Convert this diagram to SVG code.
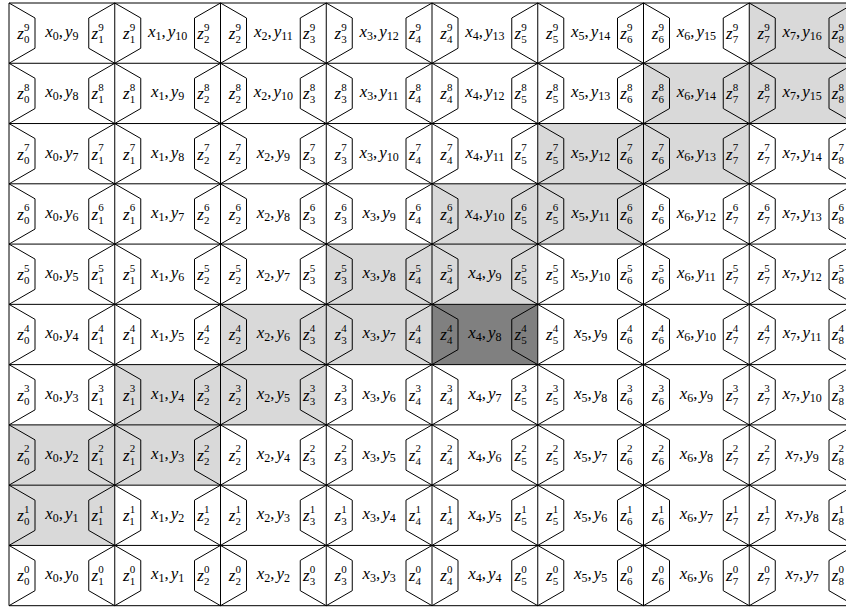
<svg xmlns="http://www.w3.org/2000/svg" xmlns:xlink="http://www.w3.org/1999/xlink" width="846" height="608" viewBox="0 0 846 608">
<style>
text{font-family:"Liberation Serif","Times New Roman",serif;font-size:17px;fill:#000}
.i{font-style:italic}
.s{font-size:12px}
.u{font-size:11px}
.m{text-anchor:middle}
.lt{fill:#d9d9d9}
.dk{fill:#808080}
.ln{fill:none;stroke:#000;stroke-width:1}
</style>
<defs>
<path id="hx" class="ln" d="M0,0L26,15L26,45.27L0,60.27L-26,45.27L-26,15Z"/>
<path id="hh" class="ln" d="M0,0L26,15L26,45.27L0,60.27"/>
<g id="hrow">
<use xlink:href="#hh" x="9"/>
<use xlink:href="#hx" x="114.75"/>
<use xlink:href="#hx" x="220.5"/>
<use xlink:href="#hx" x="326.25"/>
<use xlink:href="#hx" x="432"/>
<use xlink:href="#hx" x="537.75"/>
<use xlink:href="#hx" x="643.5"/>
<use xlink:href="#hx" x="749.25"/>
<use xlink:href="#hx" x="855"/>
</g>
</defs>
<rect width="846" height="608" fill="#fff"/>
<g id="cells">
<!-- s=9 -->
<g id="c0-9" transform="translate(9,3)"><text x="8.3" y="36"><tspan class="i">z</tspan><tspan class="u" dy="-8.4">9</tspan><tspan class="u" dx="-5.5" dy="12.4">0</tspan></text><text class="m" x="52.9" y="34"><tspan class="i">x</tspan><tspan class="s" dy="3">0</tspan><tspan dy="-3">,</tspan><tspan class="i" dx="2">y</tspan><tspan class="s" dy="3">9</tspan></text><text x="82.5" y="36"><tspan class="i">z</tspan><tspan class="u" dy="-8.4">9</tspan><tspan class="u" dx="-5.5" dy="12.4">1</tspan></text></g>
<g id="c1-9" transform="translate(114.75,3)"><text x="8.3" y="36"><tspan class="i">z</tspan><tspan class="u" dy="-8.4">9</tspan><tspan class="u" dx="-5.5" dy="12.4">1</tspan></text><text class="m" x="52.9" y="34"><tspan class="i">x</tspan><tspan class="s" dy="3">1</tspan><tspan dy="-3">,</tspan><tspan class="i" dx="2">y</tspan><tspan class="s" dy="3">10</tspan></text><text x="82.5" y="36"><tspan class="i">z</tspan><tspan class="u" dy="-8.4">9</tspan><tspan class="u" dx="-5.5" dy="12.4">2</tspan></text></g>
<g id="c2-9" transform="translate(220.5,3)"><text x="8.3" y="36"><tspan class="i">z</tspan><tspan class="u" dy="-8.4">9</tspan><tspan class="u" dx="-5.5" dy="12.4">2</tspan></text><text class="m" x="52.9" y="34"><tspan class="i">x</tspan><tspan class="s" dy="3">2</tspan><tspan dy="-3">,</tspan><tspan class="i" dx="2">y</tspan><tspan class="s" dy="3">11</tspan></text><text x="82.5" y="36"><tspan class="i">z</tspan><tspan class="u" dy="-8.4">9</tspan><tspan class="u" dx="-5.5" dy="12.4">3</tspan></text></g>
<g id="c3-9" transform="translate(326.25,3)"><text x="8.3" y="36"><tspan class="i">z</tspan><tspan class="u" dy="-8.4">9</tspan><tspan class="u" dx="-5.5" dy="12.4">3</tspan></text><text class="m" x="52.9" y="34"><tspan class="i">x</tspan><tspan class="s" dy="3">3</tspan><tspan dy="-3">,</tspan><tspan class="i" dx="2">y</tspan><tspan class="s" dy="3">12</tspan></text><text x="82.5" y="36"><tspan class="i">z</tspan><tspan class="u" dy="-8.4">9</tspan><tspan class="u" dx="-5.5" dy="12.4">4</tspan></text></g>
<g id="c4-9" transform="translate(432,3)"><text x="8.3" y="36"><tspan class="i">z</tspan><tspan class="u" dy="-8.4">9</tspan><tspan class="u" dx="-5.5" dy="12.4">4</tspan></text><text class="m" x="52.9" y="34"><tspan class="i">x</tspan><tspan class="s" dy="3">4</tspan><tspan dy="-3">,</tspan><tspan class="i" dx="2">y</tspan><tspan class="s" dy="3">13</tspan></text><text x="82.5" y="36"><tspan class="i">z</tspan><tspan class="u" dy="-8.4">9</tspan><tspan class="u" dx="-5.5" dy="12.4">5</tspan></text></g>
<g id="c5-9" transform="translate(537.75,3)"><text x="8.3" y="36"><tspan class="i">z</tspan><tspan class="u" dy="-8.4">9</tspan><tspan class="u" dx="-5.5" dy="12.4">5</tspan></text><text class="m" x="52.9" y="34"><tspan class="i">x</tspan><tspan class="s" dy="3">5</tspan><tspan dy="-3">,</tspan><tspan class="i" dx="2">y</tspan><tspan class="s" dy="3">14</tspan></text><text x="82.5" y="36"><tspan class="i">z</tspan><tspan class="u" dy="-8.4">9</tspan><tspan class="u" dx="-5.5" dy="12.4">6</tspan></text></g>
<g id="c6-9" transform="translate(643.5,3)"><text x="8.3" y="36"><tspan class="i">z</tspan><tspan class="u" dy="-8.4">9</tspan><tspan class="u" dx="-5.5" dy="12.4">6</tspan></text><text class="m" x="52.9" y="34"><tspan class="i">x</tspan><tspan class="s" dy="3">6</tspan><tspan dy="-3">,</tspan><tspan class="i" dx="2">y</tspan><tspan class="s" dy="3">15</tspan></text><text x="82.5" y="36"><tspan class="i">z</tspan><tspan class="u" dy="-8.4">9</tspan><tspan class="u" dx="-5.5" dy="12.4">7</tspan></text></g>
<g id="c7-9" transform="translate(749.25,3)"><rect class="lt" width="105.75" height="60.27"/><text x="8.3" y="36"><tspan class="i">z</tspan><tspan class="u" dy="-8.4">9</tspan><tspan class="u" dx="-5.5" dy="12.4">7</tspan></text><text class="m" x="52.9" y="34"><tspan class="i">x</tspan><tspan class="s" dy="3">7</tspan><tspan dy="-3">,</tspan><tspan class="i" dx="2">y</tspan><tspan class="s" dy="3">16</tspan></text><text x="82.5" y="36"><tspan class="i">z</tspan><tspan class="u" dy="-8.4">9</tspan><tspan class="u" dx="-5.5" dy="12.4">8</tspan></text></g>
<!-- s=8 -->
<g id="c0-8" transform="translate(9,63.27)"><text x="8.3" y="36"><tspan class="i">z</tspan><tspan class="u" dy="-8.4">8</tspan><tspan class="u" dx="-5.5" dy="12.4">0</tspan></text><text class="m" x="52.9" y="34"><tspan class="i">x</tspan><tspan class="s" dy="3">0</tspan><tspan dy="-3">,</tspan><tspan class="i" dx="2">y</tspan><tspan class="s" dy="3">8</tspan></text><text x="82.5" y="36"><tspan class="i">z</tspan><tspan class="u" dy="-8.4">8</tspan><tspan class="u" dx="-5.5" dy="12.4">1</tspan></text></g>
<g id="c1-8" transform="translate(114.75,63.27)"><text x="8.3" y="36"><tspan class="i">z</tspan><tspan class="u" dy="-8.4">8</tspan><tspan class="u" dx="-5.5" dy="12.4">1</tspan></text><text class="m" x="52.9" y="34"><tspan class="i">x</tspan><tspan class="s" dy="3">1</tspan><tspan dy="-3">,</tspan><tspan class="i" dx="2">y</tspan><tspan class="s" dy="3">9</tspan></text><text x="82.5" y="36"><tspan class="i">z</tspan><tspan class="u" dy="-8.4">8</tspan><tspan class="u" dx="-5.5" dy="12.4">2</tspan></text></g>
<g id="c2-8" transform="translate(220.5,63.27)"><text x="8.3" y="36"><tspan class="i">z</tspan><tspan class="u" dy="-8.4">8</tspan><tspan class="u" dx="-5.5" dy="12.4">2</tspan></text><text class="m" x="52.9" y="34"><tspan class="i">x</tspan><tspan class="s" dy="3">2</tspan><tspan dy="-3">,</tspan><tspan class="i" dx="2">y</tspan><tspan class="s" dy="3">10</tspan></text><text x="82.5" y="36"><tspan class="i">z</tspan><tspan class="u" dy="-8.4">8</tspan><tspan class="u" dx="-5.5" dy="12.4">3</tspan></text></g>
<g id="c3-8" transform="translate(326.25,63.27)"><text x="8.3" y="36"><tspan class="i">z</tspan><tspan class="u" dy="-8.4">8</tspan><tspan class="u" dx="-5.5" dy="12.4">3</tspan></text><text class="m" x="52.9" y="34"><tspan class="i">x</tspan><tspan class="s" dy="3">3</tspan><tspan dy="-3">,</tspan><tspan class="i" dx="2">y</tspan><tspan class="s" dy="3">11</tspan></text><text x="82.5" y="36"><tspan class="i">z</tspan><tspan class="u" dy="-8.4">8</tspan><tspan class="u" dx="-5.5" dy="12.4">4</tspan></text></g>
<g id="c4-8" transform="translate(432,63.27)"><text x="8.3" y="36"><tspan class="i">z</tspan><tspan class="u" dy="-8.4">8</tspan><tspan class="u" dx="-5.5" dy="12.4">4</tspan></text><text class="m" x="52.9" y="34"><tspan class="i">x</tspan><tspan class="s" dy="3">4</tspan><tspan dy="-3">,</tspan><tspan class="i" dx="2">y</tspan><tspan class="s" dy="3">12</tspan></text><text x="82.5" y="36"><tspan class="i">z</tspan><tspan class="u" dy="-8.4">8</tspan><tspan class="u" dx="-5.5" dy="12.4">5</tspan></text></g>
<g id="c5-8" transform="translate(537.75,63.27)"><text x="8.3" y="36"><tspan class="i">z</tspan><tspan class="u" dy="-8.4">8</tspan><tspan class="u" dx="-5.5" dy="12.4">5</tspan></text><text class="m" x="52.9" y="34"><tspan class="i">x</tspan><tspan class="s" dy="3">5</tspan><tspan dy="-3">,</tspan><tspan class="i" dx="2">y</tspan><tspan class="s" dy="3">13</tspan></text><text x="82.5" y="36"><tspan class="i">z</tspan><tspan class="u" dy="-8.4">8</tspan><tspan class="u" dx="-5.5" dy="12.4">6</tspan></text></g>
<g id="c6-8" transform="translate(643.5,63.27)"><rect class="lt" width="105.75" height="60.27"/><text x="8.3" y="36"><tspan class="i">z</tspan><tspan class="u" dy="-8.4">8</tspan><tspan class="u" dx="-5.5" dy="12.4">6</tspan></text><text class="m" x="52.9" y="34"><tspan class="i">x</tspan><tspan class="s" dy="3">6</tspan><tspan dy="-3">,</tspan><tspan class="i" dx="2">y</tspan><tspan class="s" dy="3">14</tspan></text><text x="82.5" y="36"><tspan class="i">z</tspan><tspan class="u" dy="-8.4">8</tspan><tspan class="u" dx="-5.5" dy="12.4">7</tspan></text></g>
<g id="c7-8" transform="translate(749.25,63.27)"><rect class="lt" width="105.75" height="60.27"/><text x="8.3" y="36"><tspan class="i">z</tspan><tspan class="u" dy="-8.4">8</tspan><tspan class="u" dx="-5.5" dy="12.4">7</tspan></text><text class="m" x="52.9" y="34"><tspan class="i">x</tspan><tspan class="s" dy="3">7</tspan><tspan dy="-3">,</tspan><tspan class="i" dx="2">y</tspan><tspan class="s" dy="3">15</tspan></text><text x="82.5" y="36"><tspan class="i">z</tspan><tspan class="u" dy="-8.4">8</tspan><tspan class="u" dx="-5.5" dy="12.4">8</tspan></text></g>
<!-- s=7 -->
<g id="c0-7" transform="translate(9,123.54)"><text x="8.3" y="36"><tspan class="i">z</tspan><tspan class="u" dy="-8.4">7</tspan><tspan class="u" dx="-5.5" dy="12.4">0</tspan></text><text class="m" x="52.9" y="34"><tspan class="i">x</tspan><tspan class="s" dy="3">0</tspan><tspan dy="-3">,</tspan><tspan class="i" dx="2">y</tspan><tspan class="s" dy="3">7</tspan></text><text x="82.5" y="36"><tspan class="i">z</tspan><tspan class="u" dy="-8.4">7</tspan><tspan class="u" dx="-5.5" dy="12.4">1</tspan></text></g>
<g id="c1-7" transform="translate(114.75,123.54)"><text x="8.3" y="36"><tspan class="i">z</tspan><tspan class="u" dy="-8.4">7</tspan><tspan class="u" dx="-5.5" dy="12.4">1</tspan></text><text class="m" x="52.9" y="34"><tspan class="i">x</tspan><tspan class="s" dy="3">1</tspan><tspan dy="-3">,</tspan><tspan class="i" dx="2">y</tspan><tspan class="s" dy="3">8</tspan></text><text x="82.5" y="36"><tspan class="i">z</tspan><tspan class="u" dy="-8.4">7</tspan><tspan class="u" dx="-5.5" dy="12.4">2</tspan></text></g>
<g id="c2-7" transform="translate(220.5,123.54)"><text x="8.3" y="36"><tspan class="i">z</tspan><tspan class="u" dy="-8.4">7</tspan><tspan class="u" dx="-5.5" dy="12.4">2</tspan></text><text class="m" x="52.9" y="34"><tspan class="i">x</tspan><tspan class="s" dy="3">2</tspan><tspan dy="-3">,</tspan><tspan class="i" dx="2">y</tspan><tspan class="s" dy="3">9</tspan></text><text x="82.5" y="36"><tspan class="i">z</tspan><tspan class="u" dy="-8.4">7</tspan><tspan class="u" dx="-5.5" dy="12.4">3</tspan></text></g>
<g id="c3-7" transform="translate(326.25,123.54)"><text x="8.3" y="36"><tspan class="i">z</tspan><tspan class="u" dy="-8.4">7</tspan><tspan class="u" dx="-5.5" dy="12.4">3</tspan></text><text class="m" x="52.9" y="34"><tspan class="i">x</tspan><tspan class="s" dy="3">3</tspan><tspan dy="-3">,</tspan><tspan class="i" dx="2">y</tspan><tspan class="s" dy="3">10</tspan></text><text x="82.5" y="36"><tspan class="i">z</tspan><tspan class="u" dy="-8.4">7</tspan><tspan class="u" dx="-5.5" dy="12.4">4</tspan></text></g>
<g id="c4-7" transform="translate(432,123.54)"><text x="8.3" y="36"><tspan class="i">z</tspan><tspan class="u" dy="-8.4">7</tspan><tspan class="u" dx="-5.5" dy="12.4">4</tspan></text><text class="m" x="52.9" y="34"><tspan class="i">x</tspan><tspan class="s" dy="3">4</tspan><tspan dy="-3">,</tspan><tspan class="i" dx="2">y</tspan><tspan class="s" dy="3">11</tspan></text><text x="82.5" y="36"><tspan class="i">z</tspan><tspan class="u" dy="-8.4">7</tspan><tspan class="u" dx="-5.5" dy="12.4">5</tspan></text></g>
<g id="c5-7" transform="translate(537.75,123.54)"><rect class="lt" width="105.75" height="60.27"/><text x="8.3" y="36"><tspan class="i">z</tspan><tspan class="u" dy="-8.4">7</tspan><tspan class="u" dx="-5.5" dy="12.4">5</tspan></text><text class="m" x="52.9" y="34"><tspan class="i">x</tspan><tspan class="s" dy="3">5</tspan><tspan dy="-3">,</tspan><tspan class="i" dx="2">y</tspan><tspan class="s" dy="3">12</tspan></text><text x="82.5" y="36"><tspan class="i">z</tspan><tspan class="u" dy="-8.4">7</tspan><tspan class="u" dx="-5.5" dy="12.4">6</tspan></text></g>
<g id="c6-7" transform="translate(643.5,123.54)"><rect class="lt" width="105.75" height="60.27"/><text x="8.3" y="36"><tspan class="i">z</tspan><tspan class="u" dy="-8.4">7</tspan><tspan class="u" dx="-5.5" dy="12.4">6</tspan></text><text class="m" x="52.9" y="34"><tspan class="i">x</tspan><tspan class="s" dy="3">6</tspan><tspan dy="-3">,</tspan><tspan class="i" dx="2">y</tspan><tspan class="s" dy="3">13</tspan></text><text x="82.5" y="36"><tspan class="i">z</tspan><tspan class="u" dy="-8.4">7</tspan><tspan class="u" dx="-5.5" dy="12.4">7</tspan></text></g>
<g id="c7-7" transform="translate(749.25,123.54)"><text x="8.3" y="36"><tspan class="i">z</tspan><tspan class="u" dy="-8.4">7</tspan><tspan class="u" dx="-5.5" dy="12.4">7</tspan></text><text class="m" x="52.9" y="34"><tspan class="i">x</tspan><tspan class="s" dy="3">7</tspan><tspan dy="-3">,</tspan><tspan class="i" dx="2">y</tspan><tspan class="s" dy="3">14</tspan></text><text x="82.5" y="36"><tspan class="i">z</tspan><tspan class="u" dy="-8.4">7</tspan><tspan class="u" dx="-5.5" dy="12.4">8</tspan></text></g>
<!-- s=6 -->
<g id="c0-6" transform="translate(9,183.81)"><text x="8.3" y="36"><tspan class="i">z</tspan><tspan class="u" dy="-8.4">6</tspan><tspan class="u" dx="-5.5" dy="12.4">0</tspan></text><text class="m" x="52.9" y="34"><tspan class="i">x</tspan><tspan class="s" dy="3">0</tspan><tspan dy="-3">,</tspan><tspan class="i" dx="2">y</tspan><tspan class="s" dy="3">6</tspan></text><text x="82.5" y="36"><tspan class="i">z</tspan><tspan class="u" dy="-8.4">6</tspan><tspan class="u" dx="-5.5" dy="12.4">1</tspan></text></g>
<g id="c1-6" transform="translate(114.75,183.81)"><text x="8.3" y="36"><tspan class="i">z</tspan><tspan class="u" dy="-8.4">6</tspan><tspan class="u" dx="-5.5" dy="12.4">1</tspan></text><text class="m" x="52.9" y="34"><tspan class="i">x</tspan><tspan class="s" dy="3">1</tspan><tspan dy="-3">,</tspan><tspan class="i" dx="2">y</tspan><tspan class="s" dy="3">7</tspan></text><text x="82.5" y="36"><tspan class="i">z</tspan><tspan class="u" dy="-8.4">6</tspan><tspan class="u" dx="-5.5" dy="12.4">2</tspan></text></g>
<g id="c2-6" transform="translate(220.5,183.81)"><text x="8.3" y="36"><tspan class="i">z</tspan><tspan class="u" dy="-8.4">6</tspan><tspan class="u" dx="-5.5" dy="12.4">2</tspan></text><text class="m" x="52.9" y="34"><tspan class="i">x</tspan><tspan class="s" dy="3">2</tspan><tspan dy="-3">,</tspan><tspan class="i" dx="2">y</tspan><tspan class="s" dy="3">8</tspan></text><text x="82.5" y="36"><tspan class="i">z</tspan><tspan class="u" dy="-8.4">6</tspan><tspan class="u" dx="-5.5" dy="12.4">3</tspan></text></g>
<g id="c3-6" transform="translate(326.25,183.81)"><text x="8.3" y="36"><tspan class="i">z</tspan><tspan class="u" dy="-8.4">6</tspan><tspan class="u" dx="-5.5" dy="12.4">3</tspan></text><text class="m" x="52.9" y="34"><tspan class="i">x</tspan><tspan class="s" dy="3">3</tspan><tspan dy="-3">,</tspan><tspan class="i" dx="2">y</tspan><tspan class="s" dy="3">9</tspan></text><text x="82.5" y="36"><tspan class="i">z</tspan><tspan class="u" dy="-8.4">6</tspan><tspan class="u" dx="-5.5" dy="12.4">4</tspan></text></g>
<g id="c4-6" transform="translate(432,183.81)"><rect class="lt" width="105.75" height="60.27"/><text x="8.3" y="36"><tspan class="i">z</tspan><tspan class="u" dy="-8.4">6</tspan><tspan class="u" dx="-5.5" dy="12.4">4</tspan></text><text class="m" x="52.9" y="34"><tspan class="i">x</tspan><tspan class="s" dy="3">4</tspan><tspan dy="-3">,</tspan><tspan class="i" dx="2">y</tspan><tspan class="s" dy="3">10</tspan></text><text x="82.5" y="36"><tspan class="i">z</tspan><tspan class="u" dy="-8.4">6</tspan><tspan class="u" dx="-5.5" dy="12.4">5</tspan></text></g>
<g id="c5-6" transform="translate(537.75,183.81)"><rect class="lt" width="105.75" height="60.27"/><text x="8.3" y="36"><tspan class="i">z</tspan><tspan class="u" dy="-8.4">6</tspan><tspan class="u" dx="-5.5" dy="12.4">5</tspan></text><text class="m" x="52.9" y="34"><tspan class="i">x</tspan><tspan class="s" dy="3">5</tspan><tspan dy="-3">,</tspan><tspan class="i" dx="2">y</tspan><tspan class="s" dy="3">11</tspan></text><text x="82.5" y="36"><tspan class="i">z</tspan><tspan class="u" dy="-8.4">6</tspan><tspan class="u" dx="-5.5" dy="12.4">6</tspan></text></g>
<g id="c6-6" transform="translate(643.5,183.81)"><text x="8.3" y="36"><tspan class="i">z</tspan><tspan class="u" dy="-8.4">6</tspan><tspan class="u" dx="-5.5" dy="12.4">6</tspan></text><text class="m" x="52.9" y="34"><tspan class="i">x</tspan><tspan class="s" dy="3">6</tspan><tspan dy="-3">,</tspan><tspan class="i" dx="2">y</tspan><tspan class="s" dy="3">12</tspan></text><text x="82.5" y="36"><tspan class="i">z</tspan><tspan class="u" dy="-8.4">6</tspan><tspan class="u" dx="-5.5" dy="12.4">7</tspan></text></g>
<g id="c7-6" transform="translate(749.25,183.81)"><text x="8.3" y="36"><tspan class="i">z</tspan><tspan class="u" dy="-8.4">6</tspan><tspan class="u" dx="-5.5" dy="12.4">7</tspan></text><text class="m" x="52.9" y="34"><tspan class="i">x</tspan><tspan class="s" dy="3">7</tspan><tspan dy="-3">,</tspan><tspan class="i" dx="2">y</tspan><tspan class="s" dy="3">13</tspan></text><text x="82.5" y="36"><tspan class="i">z</tspan><tspan class="u" dy="-8.4">6</tspan><tspan class="u" dx="-5.5" dy="12.4">8</tspan></text></g>
<!-- s=5 -->
<g id="c0-5" transform="translate(9,244.08)"><text x="8.3" y="36"><tspan class="i">z</tspan><tspan class="u" dy="-8.4">5</tspan><tspan class="u" dx="-5.5" dy="12.4">0</tspan></text><text class="m" x="52.9" y="34"><tspan class="i">x</tspan><tspan class="s" dy="3">0</tspan><tspan dy="-3">,</tspan><tspan class="i" dx="2">y</tspan><tspan class="s" dy="3">5</tspan></text><text x="82.5" y="36"><tspan class="i">z</tspan><tspan class="u" dy="-8.4">5</tspan><tspan class="u" dx="-5.5" dy="12.4">1</tspan></text></g>
<g id="c1-5" transform="translate(114.75,244.08)"><text x="8.3" y="36"><tspan class="i">z</tspan><tspan class="u" dy="-8.4">5</tspan><tspan class="u" dx="-5.5" dy="12.4">1</tspan></text><text class="m" x="52.9" y="34"><tspan class="i">x</tspan><tspan class="s" dy="3">1</tspan><tspan dy="-3">,</tspan><tspan class="i" dx="2">y</tspan><tspan class="s" dy="3">6</tspan></text><text x="82.5" y="36"><tspan class="i">z</tspan><tspan class="u" dy="-8.4">5</tspan><tspan class="u" dx="-5.5" dy="12.4">2</tspan></text></g>
<g id="c2-5" transform="translate(220.5,244.08)"><text x="8.3" y="36"><tspan class="i">z</tspan><tspan class="u" dy="-8.4">5</tspan><tspan class="u" dx="-5.5" dy="12.4">2</tspan></text><text class="m" x="52.9" y="34"><tspan class="i">x</tspan><tspan class="s" dy="3">2</tspan><tspan dy="-3">,</tspan><tspan class="i" dx="2">y</tspan><tspan class="s" dy="3">7</tspan></text><text x="82.5" y="36"><tspan class="i">z</tspan><tspan class="u" dy="-8.4">5</tspan><tspan class="u" dx="-5.5" dy="12.4">3</tspan></text></g>
<g id="c3-5" transform="translate(326.25,244.08)"><rect class="lt" width="105.75" height="60.27"/><text x="8.3" y="36"><tspan class="i">z</tspan><tspan class="u" dy="-8.4">5</tspan><tspan class="u" dx="-5.5" dy="12.4">3</tspan></text><text class="m" x="52.9" y="34"><tspan class="i">x</tspan><tspan class="s" dy="3">3</tspan><tspan dy="-3">,</tspan><tspan class="i" dx="2">y</tspan><tspan class="s" dy="3">8</tspan></text><text x="82.5" y="36"><tspan class="i">z</tspan><tspan class="u" dy="-8.4">5</tspan><tspan class="u" dx="-5.5" dy="12.4">4</tspan></text></g>
<g id="c4-5" transform="translate(432,244.08)"><rect class="lt" width="105.75" height="60.27"/><text x="8.3" y="36"><tspan class="i">z</tspan><tspan class="u" dy="-8.4">5</tspan><tspan class="u" dx="-5.5" dy="12.4">4</tspan></text><text class="m" x="52.9" y="34"><tspan class="i">x</tspan><tspan class="s" dy="3">4</tspan><tspan dy="-3">,</tspan><tspan class="i" dx="2">y</tspan><tspan class="s" dy="3">9</tspan></text><text x="82.5" y="36"><tspan class="i">z</tspan><tspan class="u" dy="-8.4">5</tspan><tspan class="u" dx="-5.5" dy="12.4">5</tspan></text></g>
<g id="c5-5" transform="translate(537.75,244.08)"><text x="8.3" y="36"><tspan class="i">z</tspan><tspan class="u" dy="-8.4">5</tspan><tspan class="u" dx="-5.5" dy="12.4">5</tspan></text><text class="m" x="52.9" y="34"><tspan class="i">x</tspan><tspan class="s" dy="3">5</tspan><tspan dy="-3">,</tspan><tspan class="i" dx="2">y</tspan><tspan class="s" dy="3">10</tspan></text><text x="82.5" y="36"><tspan class="i">z</tspan><tspan class="u" dy="-8.4">5</tspan><tspan class="u" dx="-5.5" dy="12.4">6</tspan></text></g>
<g id="c6-5" transform="translate(643.5,244.08)"><text x="8.3" y="36"><tspan class="i">z</tspan><tspan class="u" dy="-8.4">5</tspan><tspan class="u" dx="-5.5" dy="12.4">6</tspan></text><text class="m" x="52.9" y="34"><tspan class="i">x</tspan><tspan class="s" dy="3">6</tspan><tspan dy="-3">,</tspan><tspan class="i" dx="2">y</tspan><tspan class="s" dy="3">11</tspan></text><text x="82.5" y="36"><tspan class="i">z</tspan><tspan class="u" dy="-8.4">5</tspan><tspan class="u" dx="-5.5" dy="12.4">7</tspan></text></g>
<g id="c7-5" transform="translate(749.25,244.08)"><text x="8.3" y="36"><tspan class="i">z</tspan><tspan class="u" dy="-8.4">5</tspan><tspan class="u" dx="-5.5" dy="12.4">7</tspan></text><text class="m" x="52.9" y="34"><tspan class="i">x</tspan><tspan class="s" dy="3">7</tspan><tspan dy="-3">,</tspan><tspan class="i" dx="2">y</tspan><tspan class="s" dy="3">12</tspan></text><text x="82.5" y="36"><tspan class="i">z</tspan><tspan class="u" dy="-8.4">5</tspan><tspan class="u" dx="-5.5" dy="12.4">8</tspan></text></g>
<!-- s=4 -->
<g id="c0-4" transform="translate(9,304.35)"><text x="8.3" y="36"><tspan class="i">z</tspan><tspan class="u" dy="-8.4">4</tspan><tspan class="u" dx="-5.5" dy="12.4">0</tspan></text><text class="m" x="52.9" y="34"><tspan class="i">x</tspan><tspan class="s" dy="3">0</tspan><tspan dy="-3">,</tspan><tspan class="i" dx="2">y</tspan><tspan class="s" dy="3">4</tspan></text><text x="82.5" y="36"><tspan class="i">z</tspan><tspan class="u" dy="-8.4">4</tspan><tspan class="u" dx="-5.5" dy="12.4">1</tspan></text></g>
<g id="c1-4" transform="translate(114.75,304.35)"><text x="8.3" y="36"><tspan class="i">z</tspan><tspan class="u" dy="-8.4">4</tspan><tspan class="u" dx="-5.5" dy="12.4">1</tspan></text><text class="m" x="52.9" y="34"><tspan class="i">x</tspan><tspan class="s" dy="3">1</tspan><tspan dy="-3">,</tspan><tspan class="i" dx="2">y</tspan><tspan class="s" dy="3">5</tspan></text><text x="82.5" y="36"><tspan class="i">z</tspan><tspan class="u" dy="-8.4">4</tspan><tspan class="u" dx="-5.5" dy="12.4">2</tspan></text></g>
<g id="c2-4" transform="translate(220.5,304.35)"><rect class="lt" width="105.75" height="60.27"/><text x="8.3" y="36"><tspan class="i">z</tspan><tspan class="u" dy="-8.4">4</tspan><tspan class="u" dx="-5.5" dy="12.4">2</tspan></text><text class="m" x="52.9" y="34"><tspan class="i">x</tspan><tspan class="s" dy="3">2</tspan><tspan dy="-3">,</tspan><tspan class="i" dx="2">y</tspan><tspan class="s" dy="3">6</tspan></text><text x="82.5" y="36"><tspan class="i">z</tspan><tspan class="u" dy="-8.4">4</tspan><tspan class="u" dx="-5.5" dy="12.4">3</tspan></text></g>
<g id="c3-4" transform="translate(326.25,304.35)"><rect class="lt" width="105.75" height="60.27"/><text x="8.3" y="36"><tspan class="i">z</tspan><tspan class="u" dy="-8.4">4</tspan><tspan class="u" dx="-5.5" dy="12.4">3</tspan></text><text class="m" x="52.9" y="34"><tspan class="i">x</tspan><tspan class="s" dy="3">3</tspan><tspan dy="-3">,</tspan><tspan class="i" dx="2">y</tspan><tspan class="s" dy="3">7</tspan></text><text x="82.5" y="36"><tspan class="i">z</tspan><tspan class="u" dy="-8.4">4</tspan><tspan class="u" dx="-5.5" dy="12.4">4</tspan></text></g>
<g id="c4-4" transform="translate(432,304.35)"><rect class="dk" width="105.75" height="60.27"/><text x="8.3" y="36"><tspan class="i">z</tspan><tspan class="u" dy="-8.4">4</tspan><tspan class="u" dx="-5.5" dy="12.4">4</tspan></text><text class="m" x="52.9" y="34"><tspan class="i">x</tspan><tspan class="s" dy="3">4</tspan><tspan dy="-3">,</tspan><tspan class="i" dx="2">y</tspan><tspan class="s" dy="3">8</tspan></text><text x="82.5" y="36"><tspan class="i">z</tspan><tspan class="u" dy="-8.4">4</tspan><tspan class="u" dx="-5.5" dy="12.4">5</tspan></text></g>
<g id="c5-4" transform="translate(537.75,304.35)"><text x="8.3" y="36"><tspan class="i">z</tspan><tspan class="u" dy="-8.4">4</tspan><tspan class="u" dx="-5.5" dy="12.4">5</tspan></text><text class="m" x="52.9" y="34"><tspan class="i">x</tspan><tspan class="s" dy="3">5</tspan><tspan dy="-3">,</tspan><tspan class="i" dx="2">y</tspan><tspan class="s" dy="3">9</tspan></text><text x="82.5" y="36"><tspan class="i">z</tspan><tspan class="u" dy="-8.4">4</tspan><tspan class="u" dx="-5.5" dy="12.4">6</tspan></text></g>
<g id="c6-4" transform="translate(643.5,304.35)"><text x="8.3" y="36"><tspan class="i">z</tspan><tspan class="u" dy="-8.4">4</tspan><tspan class="u" dx="-5.5" dy="12.4">6</tspan></text><text class="m" x="52.9" y="34"><tspan class="i">x</tspan><tspan class="s" dy="3">6</tspan><tspan dy="-3">,</tspan><tspan class="i" dx="2">y</tspan><tspan class="s" dy="3">10</tspan></text><text x="82.5" y="36"><tspan class="i">z</tspan><tspan class="u" dy="-8.4">4</tspan><tspan class="u" dx="-5.5" dy="12.4">7</tspan></text></g>
<g id="c7-4" transform="translate(749.25,304.35)"><text x="8.3" y="36"><tspan class="i">z</tspan><tspan class="u" dy="-8.4">4</tspan><tspan class="u" dx="-5.5" dy="12.4">7</tspan></text><text class="m" x="52.9" y="34"><tspan class="i">x</tspan><tspan class="s" dy="3">7</tspan><tspan dy="-3">,</tspan><tspan class="i" dx="2">y</tspan><tspan class="s" dy="3">11</tspan></text><text x="82.5" y="36"><tspan class="i">z</tspan><tspan class="u" dy="-8.4">4</tspan><tspan class="u" dx="-5.5" dy="12.4">8</tspan></text></g>
<!-- s=3 -->
<g id="c0-3" transform="translate(9,364.62)"><text x="8.3" y="36"><tspan class="i">z</tspan><tspan class="u" dy="-8.4">3</tspan><tspan class="u" dx="-5.5" dy="12.4">0</tspan></text><text class="m" x="52.9" y="34"><tspan class="i">x</tspan><tspan class="s" dy="3">0</tspan><tspan dy="-3">,</tspan><tspan class="i" dx="2">y</tspan><tspan class="s" dy="3">3</tspan></text><text x="82.5" y="36"><tspan class="i">z</tspan><tspan class="u" dy="-8.4">3</tspan><tspan class="u" dx="-5.5" dy="12.4">1</tspan></text></g>
<g id="c1-3" transform="translate(114.75,364.62)"><rect class="lt" width="105.75" height="60.27"/><text x="8.3" y="36"><tspan class="i">z</tspan><tspan class="u" dy="-8.4">3</tspan><tspan class="u" dx="-5.5" dy="12.4">1</tspan></text><text class="m" x="52.9" y="34"><tspan class="i">x</tspan><tspan class="s" dy="3">1</tspan><tspan dy="-3">,</tspan><tspan class="i" dx="2">y</tspan><tspan class="s" dy="3">4</tspan></text><text x="82.5" y="36"><tspan class="i">z</tspan><tspan class="u" dy="-8.4">3</tspan><tspan class="u" dx="-5.5" dy="12.4">2</tspan></text></g>
<g id="c2-3" transform="translate(220.5,364.62)"><rect class="lt" width="105.75" height="60.27"/><text x="8.3" y="36"><tspan class="i">z</tspan><tspan class="u" dy="-8.4">3</tspan><tspan class="u" dx="-5.5" dy="12.4">2</tspan></text><text class="m" x="52.9" y="34"><tspan class="i">x</tspan><tspan class="s" dy="3">2</tspan><tspan dy="-3">,</tspan><tspan class="i" dx="2">y</tspan><tspan class="s" dy="3">5</tspan></text><text x="82.5" y="36"><tspan class="i">z</tspan><tspan class="u" dy="-8.4">3</tspan><tspan class="u" dx="-5.5" dy="12.4">3</tspan></text></g>
<g id="c3-3" transform="translate(326.25,364.62)"><text x="8.3" y="36"><tspan class="i">z</tspan><tspan class="u" dy="-8.4">3</tspan><tspan class="u" dx="-5.5" dy="12.4">3</tspan></text><text class="m" x="52.9" y="34"><tspan class="i">x</tspan><tspan class="s" dy="3">3</tspan><tspan dy="-3">,</tspan><tspan class="i" dx="2">y</tspan><tspan class="s" dy="3">6</tspan></text><text x="82.5" y="36"><tspan class="i">z</tspan><tspan class="u" dy="-8.4">3</tspan><tspan class="u" dx="-5.5" dy="12.4">4</tspan></text></g>
<g id="c4-3" transform="translate(432,364.62)"><text x="8.3" y="36"><tspan class="i">z</tspan><tspan class="u" dy="-8.4">3</tspan><tspan class="u" dx="-5.5" dy="12.4">4</tspan></text><text class="m" x="52.9" y="34"><tspan class="i">x</tspan><tspan class="s" dy="3">4</tspan><tspan dy="-3">,</tspan><tspan class="i" dx="2">y</tspan><tspan class="s" dy="3">7</tspan></text><text x="82.5" y="36"><tspan class="i">z</tspan><tspan class="u" dy="-8.4">3</tspan><tspan class="u" dx="-5.5" dy="12.4">5</tspan></text></g>
<g id="c5-3" transform="translate(537.75,364.62)"><text x="8.3" y="36"><tspan class="i">z</tspan><tspan class="u" dy="-8.4">3</tspan><tspan class="u" dx="-5.5" dy="12.4">5</tspan></text><text class="m" x="52.9" y="34"><tspan class="i">x</tspan><tspan class="s" dy="3">5</tspan><tspan dy="-3">,</tspan><tspan class="i" dx="2">y</tspan><tspan class="s" dy="3">8</tspan></text><text x="82.5" y="36"><tspan class="i">z</tspan><tspan class="u" dy="-8.4">3</tspan><tspan class="u" dx="-5.5" dy="12.4">6</tspan></text></g>
<g id="c6-3" transform="translate(643.5,364.62)"><text x="8.3" y="36"><tspan class="i">z</tspan><tspan class="u" dy="-8.4">3</tspan><tspan class="u" dx="-5.5" dy="12.4">6</tspan></text><text class="m" x="52.9" y="34"><tspan class="i">x</tspan><tspan class="s" dy="3">6</tspan><tspan dy="-3">,</tspan><tspan class="i" dx="2">y</tspan><tspan class="s" dy="3">9</tspan></text><text x="82.5" y="36"><tspan class="i">z</tspan><tspan class="u" dy="-8.4">3</tspan><tspan class="u" dx="-5.5" dy="12.4">7</tspan></text></g>
<g id="c7-3" transform="translate(749.25,364.62)"><text x="8.3" y="36"><tspan class="i">z</tspan><tspan class="u" dy="-8.4">3</tspan><tspan class="u" dx="-5.5" dy="12.4">7</tspan></text><text class="m" x="52.9" y="34"><tspan class="i">x</tspan><tspan class="s" dy="3">7</tspan><tspan dy="-3">,</tspan><tspan class="i" dx="2">y</tspan><tspan class="s" dy="3">10</tspan></text><text x="82.5" y="36"><tspan class="i">z</tspan><tspan class="u" dy="-8.4">3</tspan><tspan class="u" dx="-5.5" dy="12.4">8</tspan></text></g>
<!-- s=2 -->
<g id="c0-2" transform="translate(9,424.89)"><rect class="lt" width="105.75" height="60.27"/><text x="8.3" y="36"><tspan class="i">z</tspan><tspan class="u" dy="-8.4">2</tspan><tspan class="u" dx="-5.5" dy="12.4">0</tspan></text><text class="m" x="52.9" y="34"><tspan class="i">x</tspan><tspan class="s" dy="3">0</tspan><tspan dy="-3">,</tspan><tspan class="i" dx="2">y</tspan><tspan class="s" dy="3">2</tspan></text><text x="82.5" y="36"><tspan class="i">z</tspan><tspan class="u" dy="-8.4">2</tspan><tspan class="u" dx="-5.5" dy="12.4">1</tspan></text></g>
<g id="c1-2" transform="translate(114.75,424.89)"><rect class="lt" width="105.75" height="60.27"/><text x="8.3" y="36"><tspan class="i">z</tspan><tspan class="u" dy="-8.4">2</tspan><tspan class="u" dx="-5.5" dy="12.4">1</tspan></text><text class="m" x="52.9" y="34"><tspan class="i">x</tspan><tspan class="s" dy="3">1</tspan><tspan dy="-3">,</tspan><tspan class="i" dx="2">y</tspan><tspan class="s" dy="3">3</tspan></text><text x="82.5" y="36"><tspan class="i">z</tspan><tspan class="u" dy="-8.4">2</tspan><tspan class="u" dx="-5.5" dy="12.4">2</tspan></text></g>
<g id="c2-2" transform="translate(220.5,424.89)"><text x="8.3" y="36"><tspan class="i">z</tspan><tspan class="u" dy="-8.4">2</tspan><tspan class="u" dx="-5.5" dy="12.4">2</tspan></text><text class="m" x="52.9" y="34"><tspan class="i">x</tspan><tspan class="s" dy="3">2</tspan><tspan dy="-3">,</tspan><tspan class="i" dx="2">y</tspan><tspan class="s" dy="3">4</tspan></text><text x="82.5" y="36"><tspan class="i">z</tspan><tspan class="u" dy="-8.4">2</tspan><tspan class="u" dx="-5.5" dy="12.4">3</tspan></text></g>
<g id="c3-2" transform="translate(326.25,424.89)"><text x="8.3" y="36"><tspan class="i">z</tspan><tspan class="u" dy="-8.4">2</tspan><tspan class="u" dx="-5.5" dy="12.4">3</tspan></text><text class="m" x="52.9" y="34"><tspan class="i">x</tspan><tspan class="s" dy="3">3</tspan><tspan dy="-3">,</tspan><tspan class="i" dx="2">y</tspan><tspan class="s" dy="3">5</tspan></text><text x="82.5" y="36"><tspan class="i">z</tspan><tspan class="u" dy="-8.4">2</tspan><tspan class="u" dx="-5.5" dy="12.4">4</tspan></text></g>
<g id="c4-2" transform="translate(432,424.89)"><text x="8.3" y="36"><tspan class="i">z</tspan><tspan class="u" dy="-8.4">2</tspan><tspan class="u" dx="-5.5" dy="12.4">4</tspan></text><text class="m" x="52.9" y="34"><tspan class="i">x</tspan><tspan class="s" dy="3">4</tspan><tspan dy="-3">,</tspan><tspan class="i" dx="2">y</tspan><tspan class="s" dy="3">6</tspan></text><text x="82.5" y="36"><tspan class="i">z</tspan><tspan class="u" dy="-8.4">2</tspan><tspan class="u" dx="-5.5" dy="12.4">5</tspan></text></g>
<g id="c5-2" transform="translate(537.75,424.89)"><text x="8.3" y="36"><tspan class="i">z</tspan><tspan class="u" dy="-8.4">2</tspan><tspan class="u" dx="-5.5" dy="12.4">5</tspan></text><text class="m" x="52.9" y="34"><tspan class="i">x</tspan><tspan class="s" dy="3">5</tspan><tspan dy="-3">,</tspan><tspan class="i" dx="2">y</tspan><tspan class="s" dy="3">7</tspan></text><text x="82.5" y="36"><tspan class="i">z</tspan><tspan class="u" dy="-8.4">2</tspan><tspan class="u" dx="-5.5" dy="12.4">6</tspan></text></g>
<g id="c6-2" transform="translate(643.5,424.89)"><text x="8.3" y="36"><tspan class="i">z</tspan><tspan class="u" dy="-8.4">2</tspan><tspan class="u" dx="-5.5" dy="12.4">6</tspan></text><text class="m" x="52.9" y="34"><tspan class="i">x</tspan><tspan class="s" dy="3">6</tspan><tspan dy="-3">,</tspan><tspan class="i" dx="2">y</tspan><tspan class="s" dy="3">8</tspan></text><text x="82.5" y="36"><tspan class="i">z</tspan><tspan class="u" dy="-8.4">2</tspan><tspan class="u" dx="-5.5" dy="12.4">7</tspan></text></g>
<g id="c7-2" transform="translate(749.25,424.89)"><text x="8.3" y="36"><tspan class="i">z</tspan><tspan class="u" dy="-8.4">2</tspan><tspan class="u" dx="-5.5" dy="12.4">7</tspan></text><text class="m" x="52.9" y="34"><tspan class="i">x</tspan><tspan class="s" dy="3">7</tspan><tspan dy="-3">,</tspan><tspan class="i" dx="2">y</tspan><tspan class="s" dy="3">9</tspan></text><text x="82.5" y="36"><tspan class="i">z</tspan><tspan class="u" dy="-8.4">2</tspan><tspan class="u" dx="-5.5" dy="12.4">8</tspan></text></g>
<!-- s=1 -->
<g id="c0-1" transform="translate(9,485.16)"><rect class="lt" width="105.75" height="60.27"/><text x="8.3" y="36"><tspan class="i">z</tspan><tspan class="u" dy="-8.4">1</tspan><tspan class="u" dx="-5.5" dy="12.4">0</tspan></text><text class="m" x="52.9" y="34"><tspan class="i">x</tspan><tspan class="s" dy="3">0</tspan><tspan dy="-3">,</tspan><tspan class="i" dx="2">y</tspan><tspan class="s" dy="3">1</tspan></text><text x="82.5" y="36"><tspan class="i">z</tspan><tspan class="u" dy="-8.4">1</tspan><tspan class="u" dx="-5.5" dy="12.4">1</tspan></text></g>
<g id="c1-1" transform="translate(114.75,485.16)"><text x="8.3" y="36"><tspan class="i">z</tspan><tspan class="u" dy="-8.4">1</tspan><tspan class="u" dx="-5.5" dy="12.4">1</tspan></text><text class="m" x="52.9" y="34"><tspan class="i">x</tspan><tspan class="s" dy="3">1</tspan><tspan dy="-3">,</tspan><tspan class="i" dx="2">y</tspan><tspan class="s" dy="3">2</tspan></text><text x="82.5" y="36"><tspan class="i">z</tspan><tspan class="u" dy="-8.4">1</tspan><tspan class="u" dx="-5.5" dy="12.4">2</tspan></text></g>
<g id="c2-1" transform="translate(220.5,485.16)"><text x="8.3" y="36"><tspan class="i">z</tspan><tspan class="u" dy="-8.4">1</tspan><tspan class="u" dx="-5.5" dy="12.4">2</tspan></text><text class="m" x="52.9" y="34"><tspan class="i">x</tspan><tspan class="s" dy="3">2</tspan><tspan dy="-3">,</tspan><tspan class="i" dx="2">y</tspan><tspan class="s" dy="3">3</tspan></text><text x="82.5" y="36"><tspan class="i">z</tspan><tspan class="u" dy="-8.4">1</tspan><tspan class="u" dx="-5.5" dy="12.4">3</tspan></text></g>
<g id="c3-1" transform="translate(326.25,485.16)"><text x="8.3" y="36"><tspan class="i">z</tspan><tspan class="u" dy="-8.4">1</tspan><tspan class="u" dx="-5.5" dy="12.4">3</tspan></text><text class="m" x="52.9" y="34"><tspan class="i">x</tspan><tspan class="s" dy="3">3</tspan><tspan dy="-3">,</tspan><tspan class="i" dx="2">y</tspan><tspan class="s" dy="3">4</tspan></text><text x="82.5" y="36"><tspan class="i">z</tspan><tspan class="u" dy="-8.4">1</tspan><tspan class="u" dx="-5.5" dy="12.4">4</tspan></text></g>
<g id="c4-1" transform="translate(432,485.16)"><text x="8.3" y="36"><tspan class="i">z</tspan><tspan class="u" dy="-8.4">1</tspan><tspan class="u" dx="-5.5" dy="12.4">4</tspan></text><text class="m" x="52.9" y="34"><tspan class="i">x</tspan><tspan class="s" dy="3">4</tspan><tspan dy="-3">,</tspan><tspan class="i" dx="2">y</tspan><tspan class="s" dy="3">5</tspan></text><text x="82.5" y="36"><tspan class="i">z</tspan><tspan class="u" dy="-8.4">1</tspan><tspan class="u" dx="-5.5" dy="12.4">5</tspan></text></g>
<g id="c5-1" transform="translate(537.75,485.16)"><text x="8.3" y="36"><tspan class="i">z</tspan><tspan class="u" dy="-8.4">1</tspan><tspan class="u" dx="-5.5" dy="12.4">5</tspan></text><text class="m" x="52.9" y="34"><tspan class="i">x</tspan><tspan class="s" dy="3">5</tspan><tspan dy="-3">,</tspan><tspan class="i" dx="2">y</tspan><tspan class="s" dy="3">6</tspan></text><text x="82.5" y="36"><tspan class="i">z</tspan><tspan class="u" dy="-8.4">1</tspan><tspan class="u" dx="-5.5" dy="12.4">6</tspan></text></g>
<g id="c6-1" transform="translate(643.5,485.16)"><text x="8.3" y="36"><tspan class="i">z</tspan><tspan class="u" dy="-8.4">1</tspan><tspan class="u" dx="-5.5" dy="12.4">6</tspan></text><text class="m" x="52.9" y="34"><tspan class="i">x</tspan><tspan class="s" dy="3">6</tspan><tspan dy="-3">,</tspan><tspan class="i" dx="2">y</tspan><tspan class="s" dy="3">7</tspan></text><text x="82.5" y="36"><tspan class="i">z</tspan><tspan class="u" dy="-8.4">1</tspan><tspan class="u" dx="-5.5" dy="12.4">7</tspan></text></g>
<g id="c7-1" transform="translate(749.25,485.16)"><text x="8.3" y="36"><tspan class="i">z</tspan><tspan class="u" dy="-8.4">1</tspan><tspan class="u" dx="-5.5" dy="12.4">7</tspan></text><text class="m" x="52.9" y="34"><tspan class="i">x</tspan><tspan class="s" dy="3">7</tspan><tspan dy="-3">,</tspan><tspan class="i" dx="2">y</tspan><tspan class="s" dy="3">8</tspan></text><text x="82.5" y="36"><tspan class="i">z</tspan><tspan class="u" dy="-8.4">1</tspan><tspan class="u" dx="-5.5" dy="12.4">8</tspan></text></g>
<!-- s=0 -->
<g id="c0-0" transform="translate(9,545.43)"><text x="8.3" y="36"><tspan class="i">z</tspan><tspan class="u" dy="-8.4">0</tspan><tspan class="u" dx="-5.5" dy="12.4">0</tspan></text><text class="m" x="52.9" y="34"><tspan class="i">x</tspan><tspan class="s" dy="3">0</tspan><tspan dy="-3">,</tspan><tspan class="i" dx="2">y</tspan><tspan class="s" dy="3">0</tspan></text><text x="82.5" y="36"><tspan class="i">z</tspan><tspan class="u" dy="-8.4">0</tspan><tspan class="u" dx="-5.5" dy="12.4">1</tspan></text></g>
<g id="c1-0" transform="translate(114.75,545.43)"><text x="8.3" y="36"><tspan class="i">z</tspan><tspan class="u" dy="-8.4">0</tspan><tspan class="u" dx="-5.5" dy="12.4">1</tspan></text><text class="m" x="52.9" y="34"><tspan class="i">x</tspan><tspan class="s" dy="3">1</tspan><tspan dy="-3">,</tspan><tspan class="i" dx="2">y</tspan><tspan class="s" dy="3">1</tspan></text><text x="82.5" y="36"><tspan class="i">z</tspan><tspan class="u" dy="-8.4">0</tspan><tspan class="u" dx="-5.5" dy="12.4">2</tspan></text></g>
<g id="c2-0" transform="translate(220.5,545.43)"><text x="8.3" y="36"><tspan class="i">z</tspan><tspan class="u" dy="-8.4">0</tspan><tspan class="u" dx="-5.5" dy="12.4">2</tspan></text><text class="m" x="52.9" y="34"><tspan class="i">x</tspan><tspan class="s" dy="3">2</tspan><tspan dy="-3">,</tspan><tspan class="i" dx="2">y</tspan><tspan class="s" dy="3">2</tspan></text><text x="82.5" y="36"><tspan class="i">z</tspan><tspan class="u" dy="-8.4">0</tspan><tspan class="u" dx="-5.5" dy="12.4">3</tspan></text></g>
<g id="c3-0" transform="translate(326.25,545.43)"><text x="8.3" y="36"><tspan class="i">z</tspan><tspan class="u" dy="-8.4">0</tspan><tspan class="u" dx="-5.5" dy="12.4">3</tspan></text><text class="m" x="52.9" y="34"><tspan class="i">x</tspan><tspan class="s" dy="3">3</tspan><tspan dy="-3">,</tspan><tspan class="i" dx="2">y</tspan><tspan class="s" dy="3">3</tspan></text><text x="82.5" y="36"><tspan class="i">z</tspan><tspan class="u" dy="-8.4">0</tspan><tspan class="u" dx="-5.5" dy="12.4">4</tspan></text></g>
<g id="c4-0" transform="translate(432,545.43)"><text x="8.3" y="36"><tspan class="i">z</tspan><tspan class="u" dy="-8.4">0</tspan><tspan class="u" dx="-5.5" dy="12.4">4</tspan></text><text class="m" x="52.9" y="34"><tspan class="i">x</tspan><tspan class="s" dy="3">4</tspan><tspan dy="-3">,</tspan><tspan class="i" dx="2">y</tspan><tspan class="s" dy="3">4</tspan></text><text x="82.5" y="36"><tspan class="i">z</tspan><tspan class="u" dy="-8.4">0</tspan><tspan class="u" dx="-5.5" dy="12.4">5</tspan></text></g>
<g id="c5-0" transform="translate(537.75,545.43)"><text x="8.3" y="36"><tspan class="i">z</tspan><tspan class="u" dy="-8.4">0</tspan><tspan class="u" dx="-5.5" dy="12.4">5</tspan></text><text class="m" x="52.9" y="34"><tspan class="i">x</tspan><tspan class="s" dy="3">5</tspan><tspan dy="-3">,</tspan><tspan class="i" dx="2">y</tspan><tspan class="s" dy="3">5</tspan></text><text x="82.5" y="36"><tspan class="i">z</tspan><tspan class="u" dy="-8.4">0</tspan><tspan class="u" dx="-5.5" dy="12.4">6</tspan></text></g>
<g id="c6-0" transform="translate(643.5,545.43)"><text x="8.3" y="36"><tspan class="i">z</tspan><tspan class="u" dy="-8.4">0</tspan><tspan class="u" dx="-5.5" dy="12.4">6</tspan></text><text class="m" x="52.9" y="34"><tspan class="i">x</tspan><tspan class="s" dy="3">6</tspan><tspan dy="-3">,</tspan><tspan class="i" dx="2">y</tspan><tspan class="s" dy="3">6</tspan></text><text x="82.5" y="36"><tspan class="i">z</tspan><tspan class="u" dy="-8.4">0</tspan><tspan class="u" dx="-5.5" dy="12.4">7</tspan></text></g>
<g id="c7-0" transform="translate(749.25,545.43)"><text x="8.3" y="36"><tspan class="i">z</tspan><tspan class="u" dy="-8.4">0</tspan><tspan class="u" dx="-5.5" dy="12.4">7</tspan></text><text class="m" x="52.9" y="34"><tspan class="i">x</tspan><tspan class="s" dy="3">7</tspan><tspan dy="-3">,</tspan><tspan class="i" dx="2">y</tspan><tspan class="s" dy="3">7</tspan></text><text x="82.5" y="36"><tspan class="i">z</tspan><tspan class="u" dy="-8.4">0</tspan><tspan class="u" dx="-5.5" dy="12.4">8</tspan></text></g>
</g>
<g id="grid">
<path class="ln" d="M9,3H846M9,63.27H846M9,123.54H846M9,183.81H846M9,244.08H846M9,304.35H846M9,364.62H846M9,424.89H846M9,485.16H846M9,545.43H846M9,605.7H846M9,3V605.7M114.75,3V605.7M220.5,3V605.7M326.25,3V605.7M432,3V605.7M537.75,3V605.7M643.5,3V605.7M749.25,3V605.7"/>
<use xlink:href="#hrow" y="3"/>
<use xlink:href="#hrow" y="63.27"/>
<use xlink:href="#hrow" y="123.54"/>
<use xlink:href="#hrow" y="183.81"/>
<use xlink:href="#hrow" y="244.08"/>
<use xlink:href="#hrow" y="304.35"/>
<use xlink:href="#hrow" y="364.62"/>
<use xlink:href="#hrow" y="424.89"/>
<use xlink:href="#hrow" y="485.16"/>
<use xlink:href="#hrow" y="545.43"/>
</g>
</svg>
